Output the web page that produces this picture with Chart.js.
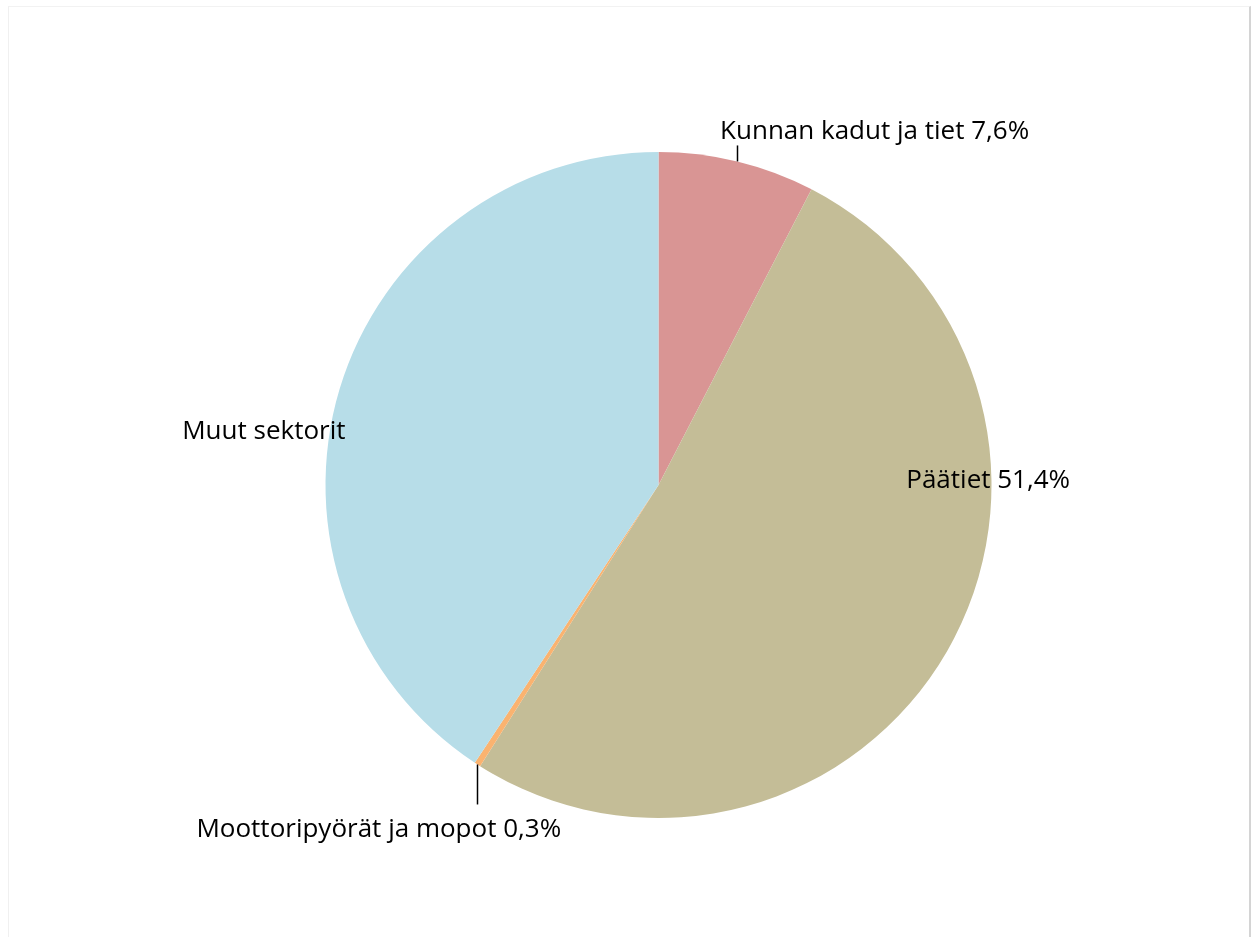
<!DOCTYPE html>
<html>
<head>
    <meta charset="utf-8">
    <title>Liikenteen osuudet</title>
    <script src="https://cdn.jsdelivr.net/npm/chart.js"></script>
    <style>
        body { margin: 0; background: #fff; }
        #frame {
            position: absolute; left: 8px; top: 6px; width: 1240px; height: 930px;
            border-top: 1px solid #f2f2f2; border-left: 1px solid #f0f0f0;
            border-right: 2px solid #d4d4d4;
        }
        #wrap { position: absolute; left: 0; top: 0; width: 1254px; height: 938px; }
    </style>
</head>
<body>
    <div id="frame"></div>
    <div id="wrap"><canvas id="pieChart"></canvas></div>
    <script>
        // data
        const categories = ['Kunnan kadut ja tiet', 'Päätiet', 'Moottoripyörät ja mopot', 'Muut sektorit'];
        const shares = [7.6, 51.4, 0.3, 40.7];
        const labelTexts = ['Kunnan kadut ja tiet 7,6%', 'Päätiet 51,4%', 'Moottoripyörät ja mopot 0,3%', 'Muut sektorit'];
        const colors = ['#D99594', '#C4BD97', '#FAB370', '#B7DDE8'];

        // label placement: offset from pie centre in radius units, plus optional leader line
        const labelPos = [
            { x: 0.185, y: -1.062, align: 'left', leader: true, leaderLen: 16 },
            { x: 0.99, y: -0.012, align: 'center' },
            { x: -0.84, y: 1.035, align: 'center', leader: true, leaderLen: 40, down: true },
            { x: -1.185, y: -0.16, align: 'center' }
        ];

        const pieLabels = {
            id: 'pieLabels',
            afterDatasetsDraw(chart) {
                const ctx = chart.ctx;
                const arcs = chart.getDatasetMeta(0).data;
                ctx.save();
                ctx.font = '26px "Open Sans", sans-serif';
                ctx.fillStyle = '#000';
                ctx.strokeStyle = '#000';
                ctx.lineWidth = 1.5;
                ctx.textBaseline = 'middle';
                arcs.forEach((arc, i) => {
                    const p = labelPos[i];
                    const r = arc.outerRadius;
                    const tx = arc.x + p.x * r;
                    const ty = arc.y + p.y * r;
                    if (p.leader) {
                        const mid = (arc.startAngle + arc.endAngle) / 2;
                        const ex = arc.x + Math.cos(mid) * r;
                        const ey = arc.y + Math.sin(mid) * r;
                        ctx.beginPath();
                        ctx.moveTo(Math.round(ex) + 0.5, ey);
                        ctx.lineTo(Math.round(ex) + 0.5, p.down ? ey + p.leaderLen : ey - p.leaderLen);
                        ctx.stroke();
                    }
                    ctx.textAlign = p.align;
                    ctx.fillText(labelTexts[i], tx, ty);
                });
                ctx.restore();
            }
        };

        const ctx = document.getElementById('pieChart').getContext('2d');
        new Chart(ctx, {
            type: 'pie',
            data: {
                labels: categories,
                datasets: [{
                    data: shares,
                    backgroundColor: colors,
                    borderWidth: 0
                }]
            },
            options: {
                responsive: true,
                maintainAspectRatio: false,
                animation: false,
                layout: { padding: { left: 325, right: 262, top: 152, bottom: 120 } },
                plugins: {
                    legend: { display: false },
                    tooltip: { enabled: false }
                }
            },
            plugins: [pieLabels]
        });
    </script>
</body>
</html>
